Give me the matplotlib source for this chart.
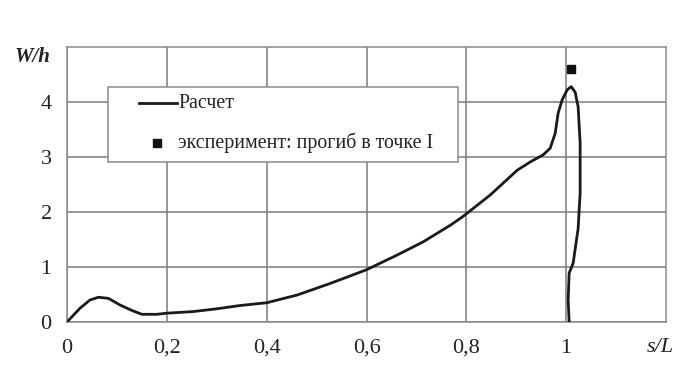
import matplotlib
matplotlib.use("Agg")
import matplotlib.pyplot as plt
from matplotlib.lines import Line2D
from matplotlib.patches import Rectangle

# Calculated curve (s/L, W/h)
calc_s = [0.0, 0.026, 0.046, 0.063, 0.083, 0.106, 0.130, 0.150, 0.180, 0.200, 0.253,
          0.300, 0.347, 0.400, 0.461, 0.527, 0.600, 0.662, 0.714, 0.768, 0.792,
          0.848, 0.902, 0.928, 0.954, 0.968, 0.978, 0.984, 0.992, 1.002, 1.010,
          1.018, 1.024, 1.028, 1.028, 1.024, 1.014, 1.006, 1.004, 1.006]
calc_w = [0.0, 0.25, 0.40, 0.45, 0.43, 0.31, 0.21, 0.14, 0.14, 0.16, 0.19,
          0.24, 0.30, 0.35, 0.49, 0.70, 0.95, 1.22, 1.46, 1.76, 1.91,
          2.31, 2.76, 2.91, 3.04, 3.16, 3.43, 3.80, 4.04, 4.22, 4.28,
          4.18, 3.91, 3.25, 2.35, 1.70, 1.07, 0.89, 0.40, 0.0]

# Experiment
exp_s = [1.01]
exp_w = [4.6]

x_ticks = [0, 0.2, 0.4, 0.6, 0.8, 1.0]
x_labels = ["0", "0,2", "0,4", "0,6", "0,8", "1"]
y_ticks = [0, 1, 2, 3, 4]
y_labels = ["0", "1", "2", "3", "4"]
legend_labels = ["Расчет", "эксперимент: прогиб в точке I"]

plt.rcParams['font.family'] = ['Liberation Serif', 'DejaVu Serif']

W, H = 687, 375
fig = plt.figure(figsize=(6.87, 3.75), dpi=100)
ax = fig.add_axes([67 / W, 1 - 322 / H, (666 - 67) / W, (322 - 47) / H])

ax.set_xlim(0, 1.2)
ax.set_ylim(0, 5)
ax.set_xticks([0, 0.2, 0.4, 0.6, 0.8, 1.0, 1.2])
ax.set_yticks([0, 1, 2, 3, 4, 5])
ax.grid(True, color='#7a7a7a', linewidth=1.1)
ax.set_xticks(x_ticks, labels=x_labels)
ax.set_yticks(y_ticks, labels=y_labels)
for sp in ax.spines.values():
    sp.set_color('#8a8a8a')
    sp.set_linewidth(1.1)
ax.tick_params(length=0, labelsize=16, colors='#222222')
ax.tick_params(axis='x', pad=12)
ax.tick_params(axis='y', pad=11)

ax.plot(calc_s, calc_w, color='#1a1a1a', linewidth=2.0, zorder=3,
        solid_joinstyle='round')
ax.plot(exp_s, exp_w, linestyle='none', marker='s', markersize=6,
        color='#111111', zorder=4)

fig.text(33 / W, 1 - 57 / H, "W/h", fontsize=15, style='italic',
         fontweight='bold', ha='center', va='center', color='#222222')
fig.text(660 / W, 1 - 348 / H, "s/L", fontsize=16, style='italic',
         ha='center', va='center', color='#222222')

# Legend drawn manually (box position)
def ax_xy(px, py):
    return (px - 67) / 599, (322 - py) / 275

x0, y0 = ax_xy(108, 162)
x1, y1 = ax_xy(458, 87)
ax.add_patch(Rectangle((x0, y0), x1 - x0, y1 - y0, transform=ax.transAxes,
                       facecolor='white', edgecolor='#8a8a8a', linewidth=1.1,
                       zorder=5))
lx0, ly = ax_xy(139, 103)
lx1, _ = ax_xy(177, 103)
ax.add_line(Line2D([lx0, lx1], [ly, ly], transform=ax.transAxes,
                   color='#1a1a1a', linewidth=2.0, zorder=6))
tx, _ = ax_xy(178, 103)
ax.text(tx, ly, legend_labels[0], transform=ax.transAxes, fontsize=14.3,
        ha='left', va='center', color='#222222', zorder=6)
mx, my = ax_xy(157, 143)
ax.add_line(Line2D([mx], [my], transform=ax.transAxes, linestyle='none',
                   marker='s', markersize=6, color='#111111', zorder=6))
ax.text(tx, my, legend_labels[1], transform=ax.transAxes, fontsize=14.3,
        ha='left', va='center', color='#222222', zorder=6)

fig.savefig("out.png", dpi=100)
